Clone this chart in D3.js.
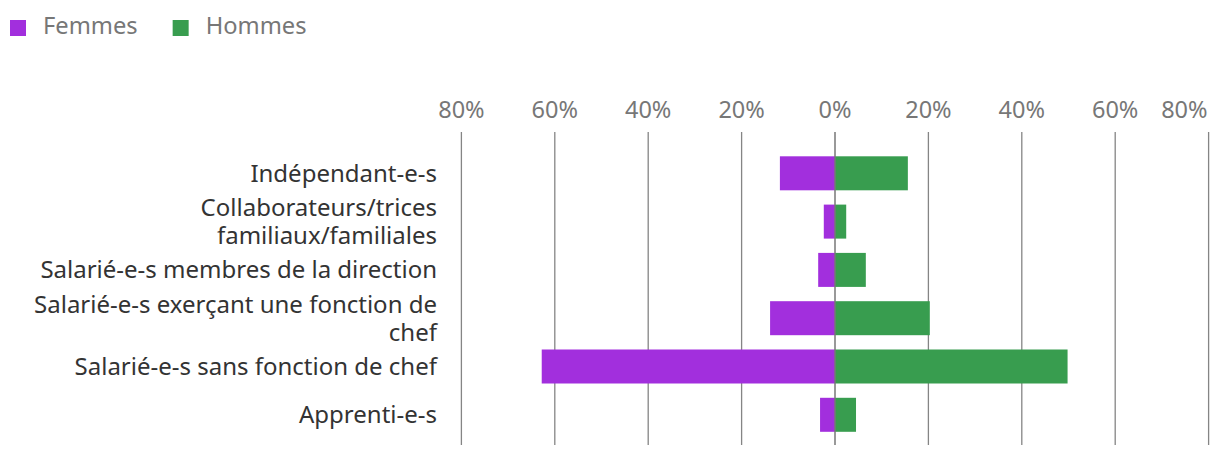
<!DOCTYPE html>
<html>
<head>
<meta charset="utf-8">
<script src="https://cdn.jsdelivr.net/npm/d3@7"></script>
<style>
  html, body { margin: 0; padding: 0; background: #fff; }
  svg { display: block; font-family: "Noto Sans", "Open Sans", sans-serif; }
</style>
</head>
<body>
<svg id="chart" width="1220" height="456"></svg>
<script>
const categories = [
  "Indépendant-e-s",
  "Collaborateurs/trices familiaux/familiales",
  "Salarié-e-s membres de la direction",
  "Salarié-e-s exerçant une fonction de chef",
  "Salarié-e-s sans fonction de chef",
  "Apprenti-e-s"
];
const femmes = [11.8, 2.4, 3.6, 13.9, 62.8, 3.2];
const hommes = [15.6, 2.4, 6.6, 20.3, 49.8, 4.5];
const seriesNames = ["Femmes", "Hommes"];
const tickValues = [-80, -60, -40, -20, 0, 20, 40, 60, 80];

const colors = { Femmes: "#a22fdd", Hommes: "#389d4f" };
const svg = d3.select("#chart");

// Legend
const legend = svg.append("g");
let lx = 10;
seriesNames.forEach(name => {
  legend.append("rect").attr("x", lx).attr("y", 20).attr("width", 16).attr("height", 16)
    .attr("fill", colors[name]);
  const t = legend.append("text").attr("x", lx + 33).attr("y", 34)
    .attr("font-size", 23.7).attr("fill", "#777").text(name);
  lx += 33 + t.node().getComputedTextLength() + 35;
});

const x = d3.scaleLinear().domain([-80, 80]).range([461.4, 1208.6]);
const y = d3.scaleBand().domain(categories).range([156.3, 431.8]).paddingInner(0.296).paddingOuter(0);
const gridTop = 132, gridBottom = 445;

// Gridlines (behind)
const grid = svg.append("g");
grid.selectAll("line").data(tickValues.filter(d => d !== 0)).join("line")
  .attr("x1", d => x(d)).attr("x2", d => x(d))
  .attr("y1", gridTop).attr("y2", gridBottom)
  .attr("stroke", "#858585").attr("stroke-width", 1.3);

// Tick labels
svg.append("g").selectAll("text").data(tickValues).join("text")
  .attr("x", (d, i) => i === tickValues.length - 1 ? x(d) - 1 : x(d))
  .attr("y", 117.8)
  .attr("text-anchor", (d, i) => i === tickValues.length - 1 ? "end" : "middle")
  .attr("font-size", 23.5)
  .attr("fill", "#777")
  .text(d => Math.abs(d) + "%");

// Bars
const rows = categories.map((c, i) => ({ c, f: femmes[i], h: hommes[i] }));
svg.append("g").selectAll("rect").data(rows).join("rect")
  .attr("x", d => x(-d.f)).attr("width", d => x(0) - x(-d.f))
  .attr("y", d => y(d.c)).attr("height", y.bandwidth())
  .attr("fill", colors.Femmes);
svg.append("g").selectAll("rect").data(rows).join("rect")
  .attr("x", x(0)).attr("width", d => x(d.h) - x(0))
  .attr("y", d => y(d.c)).attr("height", y.bandwidth())
  .attr("fill", colors.Hommes);

// Zero line on top
svg.append("line").attr("x1", x(0)).attr("x2", x(0))
  .attr("y1", gridTop).attr("y2", gridBottom)
  .attr("stroke", "#777").attr("stroke-width", 1.5);

// Category labels with wrapping
const maxW = 420, lineH = 28, labelX = 437;
const lab = svg.append("g");
categories.forEach(c => {
  const cy = y(c) + y.bandwidth() / 2;
  const words = c.split(" ");
  const t = lab.append("text").attr("font-size", 24).attr("fill", "#333")
    .attr("text-anchor", "end");
  const lines = [];
  let cur = [];
  const probe = t.append("tspan");
  words.forEach(w => {
    const test = cur.concat([w]).join(" ");
    probe.text(test);
    if (probe.node().getComputedTextLength() > maxW && cur.length) {
      lines.push(cur.join(" "));
      cur = [w];
    } else cur.push(w);
  });
  lines.push(cur.join(" "));
  probe.remove();
  const n = lines.length;
  lines.forEach((ln, i) => {
    t.append("tspan").attr("x", labelX)
      .attr("y", cy + (i - (n - 1) / 2) * lineH + 8.5)
      .text(ln);
  });
});
</script>
</body>
</html>
